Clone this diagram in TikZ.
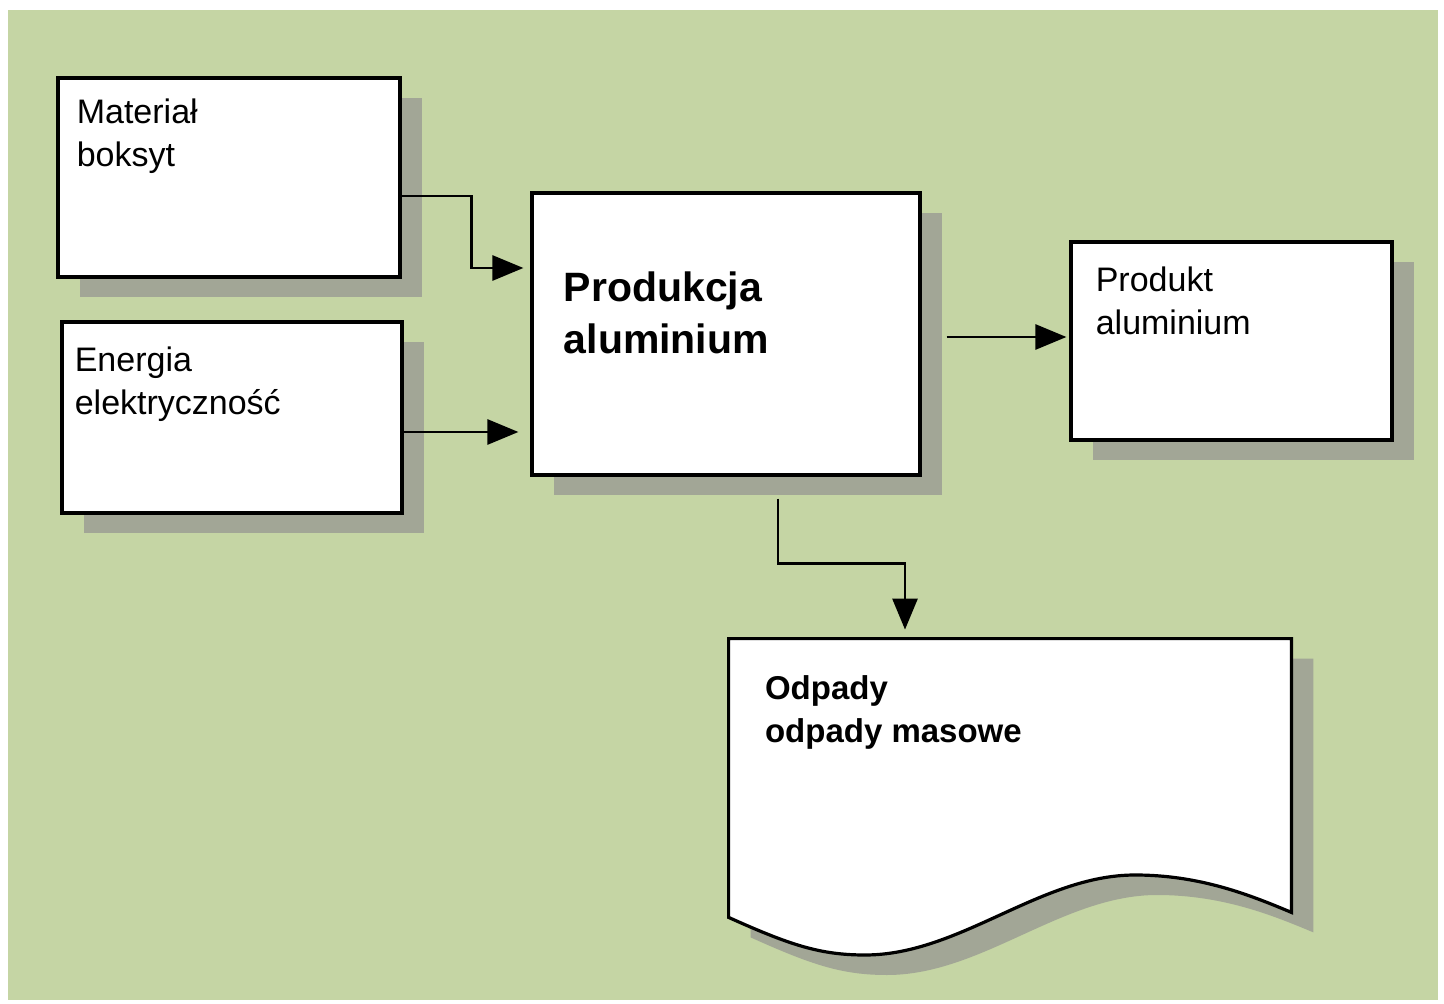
\documentclass[tikz,border=0pt]{standalone}
\usepackage{fontspec}
\setmainfont{Liberation Sans}
\usetikzlibrary{positioning,arrows.meta,shadows}

\definecolor{paper}{RGB}{197,213,164}
\definecolor{shade}{RGB}{162,166,150}

\begin{document}
\begin{tikzpicture}[x=0.5pt,y=-0.5pt,
  box/.style={draw=black, line width=1.6pt, fill=white, inner sep=0pt,
    drop shadow={shadow xshift=11pt, shadow yshift=-10pt, fill=shade, opacity=1}},
  txt/.style={inner sep=0pt, align=left, font=\fontsize{17}{21.5}\selectfont},
  conn/.style={line width=1.4pt, -{Triangle[length=15.5pt,width=12.5pt]}}]
\useasboundingbox (0,0) rectangle (1444,1004);
\fill[white] (0,0) rectangle (1444,1004);
\fill[paper] (8,10) rectangle (1438,1000);
% ---- inputs ----
\node[box, minimum width=171pt, minimum height=99.5pt] (mat) at (229,177.5) {};
\node[txt, below right=11pt and 10pt of mat.north west] (matT) {Materiał\\boksyt};
\node[box, minimum width=170pt, minimum height=95.5pt] (ene) at (232,417.5) {};
\node[txt, below right=13pt and 7pt of ene.north west] (eneT) {Energia\\elektryczność};
% ---- process ----
\node[box, minimum width=194pt, minimum height=141pt] (prod) at (726,334) {};
\node[txt, font=\fontsize{20.5}{26}\selectfont\bfseries,
  below right=40pt and 16.5pt of prod.north west] (prodT) {Produkcja\\aluminium};
% ---- product ----
\node[box, minimum width=160.5pt, minimum height=99pt] (out) at (1231.5,341) {};
\node[txt, below right=13pt and 13pt of out.north west] (outT) {Produkt\\aluminium};
% ---- waste (document shape) ----
\node[minimum width=281pt, minimum height=139pt, inner sep=0pt] (odp) at (1010,778) {};
\path[box] (odp.south west) -- (odp.north west) -- (odp.north east)
  -- ([yshift=2.5pt]odp.south east)
  .. controls (1250,895) and (1200,875) .. (1135,875)
  .. controls (1040,875) and (960,955) .. (865,955)
  .. controls (820,955) and (790,945) .. (odp.south west) -- cycle;
\node[txt, font=\fontsize{16.5}{21.5}\selectfont\bfseries,
  below right=18.5pt and 18pt of odp.north west] (odpT) {Odpady\\odpady masowe};
% ---- flows ----
\draw[conn] ([yshift=-9.25pt]mat.east) -- ++(70,0)
  |- ([xshift=-3.5pt,yshift=33pt]prod.west);
\draw[conn] ([yshift=-7.25pt]ene.east) -- ([xshift=-6pt,yshift=-49pt]prod.west);
\draw[conn] ([xshift=12.5pt,yshift=-1.5pt]prod.east) -- ([xshift=-1.5pt,yshift=2pt]out.west);
\draw[conn] ([xshift=26pt,yshift=-11pt]prod.south) -- ++(0,65)
  -| ([xshift=-52.5pt,yshift=4.5pt]odp.north);
\end{tikzpicture}
\end{document}
